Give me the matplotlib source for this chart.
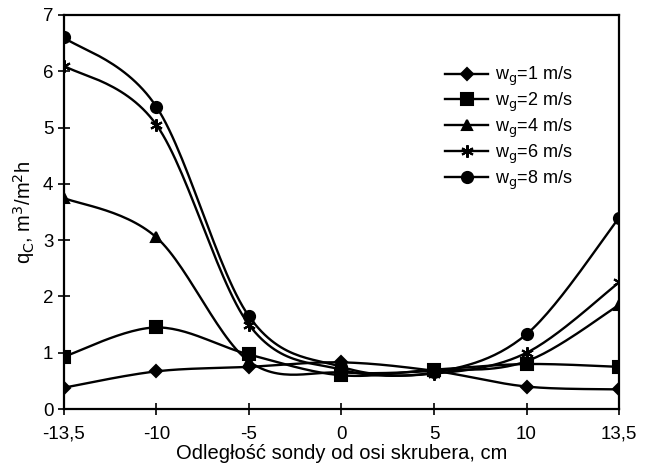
import matplotlib
matplotlib.use('Agg')
import matplotlib.pyplot as plt
import numpy as np

plt.rcParams['font.family'] = ['Liberation Sans', 'DejaVu Sans']

positions = ['-13,5', '-10', '-5', '0', '5', '10', '13,5']
labels = ['w$_\\mathrm{g}$=1 m/s', 'w$_\\mathrm{g}$=2 m/s', 'w$_\\mathrm{g}$=4 m/s',
          'w$_\\mathrm{g}$=6 m/s', 'w$_\\mathrm{g}$=8 m/s']
wg1 = [0.38, 0.67, 0.75, 0.83, 0.68, 0.40, 0.35]
wg2 = [0.93, 1.45, 0.97, 0.60, 0.70, 0.80, 0.75]
wg4 = [3.75, 3.05, 0.85, 0.65, 0.68, 0.85, 1.85]
wg6 = [6.10, 5.05, 1.50, 0.70, 0.63, 1.00, 2.25]
wg8 = [6.60, 5.37, 1.65, 0.75, 0.65, 1.33, 3.40]
series = [wg1, wg2, wg4, wg6, wg8]
markers = ['D', 's', '^', (6, 2, 0), 'o']
msizes = [6, 8, 7, 9, 8]


def smooth(x, y, n=30):
    # Excel-like smoothed line: bezier segments with Catmull-Rom control points
    x = np.asarray(x, float)
    y = np.asarray(y, float)
    px = np.concatenate([[x[0]], x, [x[-1]]])
    py = np.concatenate([[y[0]], y, [y[-1]]])
    t = np.linspace(0, 1, n)
    xs, ys = [], []
    for i in range(len(x) - 1):
        p0 = np.array([px[i + 1], py[i + 1]])
        p3 = np.array([px[i + 2], py[i + 2]])
        p1 = p0 + (p3 - np.array([px[i], py[i]])) / 6
        p2 = p3 - (np.array([px[i + 3], py[i + 3]]) - p0) / 6
        b = ((1 - t) ** 3)[:, None] * p0 + (3 * (1 - t) ** 2 * t)[:, None] * p1 \
            + (3 * (1 - t) * t ** 2)[:, None] * p2 + (t ** 3)[:, None] * p3
        xs.extend(b[:, 0])
        ys.extend(b[:, 1])
    return xs, ys


fig = plt.figure(figsize=(6.51, 4.67), dpi=100)
ax = fig.add_axes([0.098, 0.124, 0.853, 0.844])

xi = np.arange(len(positions))
for vals, lab, mk, ms in zip(series, labels, markers, msizes):
    sx, sy = smooth(xi, vals)
    ax.plot(sx, sy, color='black', lw=1.7)
    ax.plot(xi, vals, linestyle='none', marker=mk, color='black', ms=ms, mew=1.5)
    ax.plot([], [], color='black', lw=1.7, marker=mk, ms=ms, mew=1.5, label=lab)

ax.set_xlim(0, len(positions) - 1)
ax.set_ylim(0, 7)
ax.set_xticks(xi)
ax.set_xticklabels(positions)
ax.set_yticks(range(8))
ax.tick_params(direction='inout', length=8, width=1.2, labelsize=13.5)
ax.tick_params(axis='x', pad=8)
for s in ax.spines.values():
    s.set_linewidth(1.6)

ax.set_xlabel('Odległość sondy od osi skrubera, cm', fontsize=14.5, labelpad=1)
ax.set_ylabel('q$_\\mathrm{C}$, m$^3$/m$^2$h', fontsize=14.5, labelpad=4)

ax.legend(loc='upper right', bbox_to_anchor=(0.945, 0.915), frameon=False, fontsize=13,
          handlelength=2.4, labelspacing=0.15, handletextpad=0.35)

fig.savefig('out.png', dpi=100)
